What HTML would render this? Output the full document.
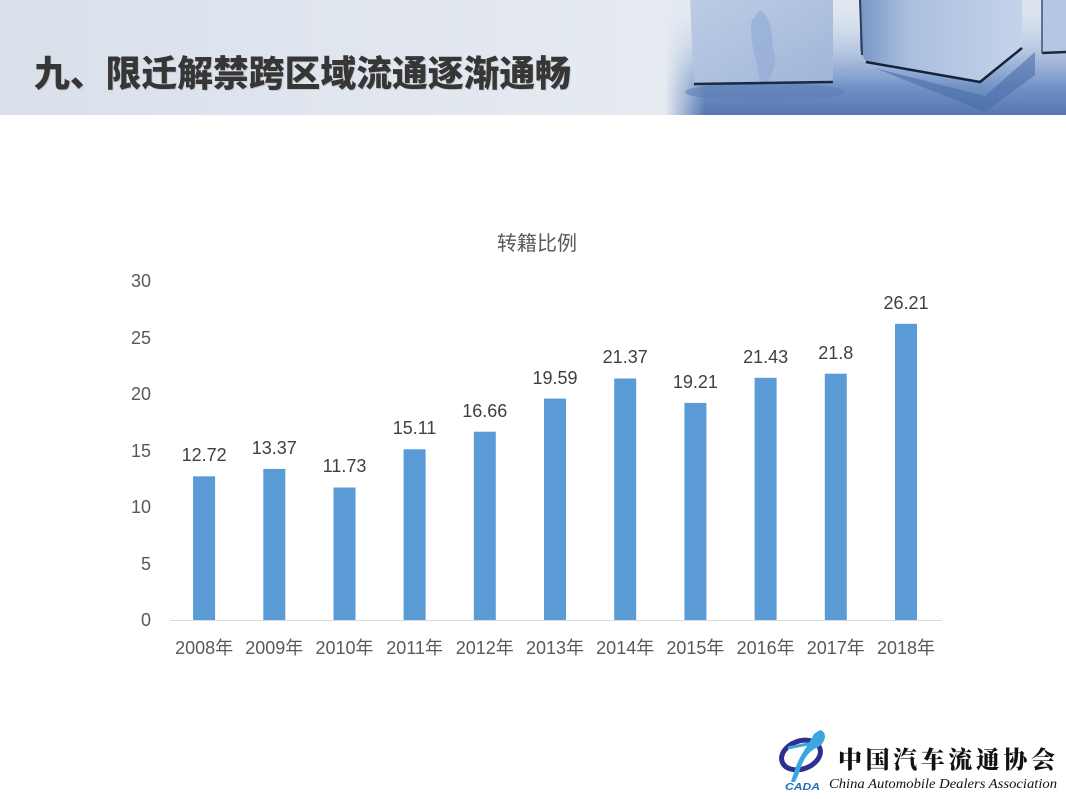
<!DOCTYPE html>
<html>
<head>
<meta charset="utf-8">
<style>
html,body{margin:0;padding:0;background:#fff;}
svg{display:block;}
</style>
</head>
<body>
<svg width="1066" height="799" viewBox="0 0 1066 799" xmlns="http://www.w3.org/2000/svg">
<defs>
<linearGradient id="hdr" x1="0" y1="0" x2="1" y2="0">
<stop offset="0" stop-color="#d9e0ea"/>
<stop offset="0.45" stop-color="#e3e8f0"/>
<stop offset="0.62" stop-color="#e6ebf2"/>
<stop offset="1" stop-color="#dce4ee"/>
</linearGradient>
<linearGradient id="floor" x1="0" y1="0" x2="0" y2="1">
<stop offset="0" stop-color="#dbe3ee" stop-opacity="0"/>
<stop offset="0.45" stop-color="#a9bddc" stop-opacity="0.8"/>
<stop offset="0.75" stop-color="#7393c6"/>
<stop offset="1" stop-color="#5677b1"/>
</linearGradient>
<linearGradient id="fade" x1="0" y1="0" x2="1" y2="0">
<stop offset="0" stop-color="#fff" stop-opacity="0"/>
<stop offset="0.1" stop-color="#fff" stop-opacity="1"/>
<stop offset="1" stop-color="#fff" stop-opacity="1"/>
</linearGradient>
<mask id="fm"><rect x="665" y="0" width="401" height="115" fill="url(#fade)"/></mask>
<linearGradient id="c1" x1="0" y1="0" x2="1" y2="1">
<stop offset="0" stop-color="#bccce4"/>
<stop offset="1" stop-color="#9fb6d9"/>
</linearGradient>
<linearGradient id="c2" x1="0" y1="0" x2="1" y2="0">
<stop offset="0" stop-color="#7895c4"/>
<stop offset="0.3" stop-color="#aabfdf"/>
<stop offset="1" stop-color="#c4d3e9"/>
</linearGradient>
</defs>

<!-- header band -->
<rect x="0" y="0" width="1066" height="115" fill="url(#hdr)"/>
<g mask="url(#fm)">
<rect x="665" y="0" width="401" height="115" fill="url(#floor)"/>
</g>
<!-- cube 1 -->
<ellipse cx="765" cy="92" rx="80" ry="9" fill="#5d7fb7" opacity="0.6"/>
<polygon points="690,0 833,0 833,82 694,84" fill="url(#c1)"/>
<path d="M760 10 C775 20 770 40 775 55 C778 70 765 80 770 84 L760 84 C758 60 748 40 752 20 Z" fill="#93acd4" opacity="0.7"/>
<line x1="694" y1="84" x2="833" y2="82" stroke="#1b2940" stroke-width="2.5"/>
<!-- cube 2 -->
<polygon points="875,68 985,96 1035,52 1035,75 985,112" fill="#4a6ea9" opacity="0.6"/>
<polygon points="860,0 1022,0 1022,48 980,82 866,62 860,50" fill="url(#c2)"/>
<path d="M866 62 L980 82 L1022 48" fill="none" stroke="#14223a" stroke-width="2.5"/>
<line x1="860" y1="0" x2="862" y2="55" stroke="#2a3d60" stroke-width="2"/>
<!-- cube 3 -->
<polygon points="1042,0 1066,0 1066,52 1042,53" fill="#b3c6e2"/>
<line x1="1042" y1="53" x2="1066" y2="52" stroke="#1b2940" stroke-width="2.5"/>
<line x1="1042" y1="0" x2="1042" y2="53" stroke="#3a5078" stroke-width="1.5"/>

<!-- title -->
<text x="34" y="86" font-family="'Noto Sans CJK SC','WenQuanYi Zen Hei',sans-serif" font-weight="900" font-size="36" fill="#888" opacity="0.25" transform="translate(1,1)" textLength="537" lengthAdjust="spacingAndGlyphs">九、限迁解禁跨区域流通逐渐通畅</text>
<text x="34" y="86" font-family="'Noto Sans CJK SC','WenQuanYi Zen Hei',sans-serif" font-weight="900" font-size="36" fill="#363636" textLength="537" lengthAdjust="spacingAndGlyphs">九、限迁解禁跨区域流通逐渐通畅</text>

<!-- chart title -->
<text x="537" y="250" text-anchor="middle" font-family="'Liberation Sans','Noto Sans CJK SC',sans-serif" font-size="20" fill="#595959">转籍比例</text>

<!-- y axis labels -->
<g font-family="'Liberation Sans',sans-serif" font-size="18" fill="#595959" text-anchor="end">
<text x="151" y="287">30</text>
<text x="151" y="344">25</text>
<text x="151" y="400">20</text>
<text x="151" y="457">15</text>
<text x="151" y="513">10</text>
<text x="151" y="570">5</text>
<text x="151" y="626">0</text>
</g>

<!-- axis line -->
<line x1="170" y1="620.5" x2="942" y2="620.5" stroke="#d9d9d9" stroke-width="1"/>

<!-- bars -->
<g fill="#5b9bd5">
<rect x="193.1" y="476.3" width="22" height="143.7"/>
<rect x="263.3" y="468.9" width="22" height="151.1"/>
<rect x="333.5" y="487.5" width="22" height="132.5"/>
<rect x="403.6" y="449.3" width="22" height="170.7"/>
<rect x="473.8" y="431.7" width="22" height="188.3"/>
<rect x="544.0" y="398.6" width="22" height="221.4"/>
<rect x="614.2" y="378.5" width="22" height="241.5"/>
<rect x="684.4" y="402.9" width="22" height="217.1"/>
<rect x="754.6" y="377.8" width="22" height="242.2"/>
<rect x="824.8" y="373.7" width="22" height="246.3"/>
<rect x="895.0" y="323.8" width="22" height="296.2"/>
</g>

<!-- data labels -->
<g font-family="'Liberation Sans',sans-serif" font-size="18" fill="#404040" text-anchor="middle">
<text x="204.1" y="461">12.72</text>
<text x="274.3" y="454">13.37</text>
<text x="344.5" y="472">11.73</text>
<text x="414.6" y="434">15.11</text>
<text x="484.8" y="417">16.66</text>
<text x="555.0" y="384">19.59</text>
<text x="625.2" y="363">21.37</text>
<text x="695.4" y="388">19.21</text>
<text x="765.6" y="363">21.43</text>
<text x="835.8" y="359">21.8</text>
<text x="906.0" y="309">26.21</text>
</g>

<!-- x labels -->
<g font-family="'Liberation Sans','Noto Sans CJK SC',sans-serif" font-size="18" fill="#595959" text-anchor="middle">
<text x="204.1" y="654">2008年</text>
<text x="274.3" y="654">2009年</text>
<text x="344.5" y="654">2010年</text>
<text x="414.6" y="654">2011年</text>
<text x="484.8" y="654">2012年</text>
<text x="555.0" y="654">2013年</text>
<text x="625.2" y="654">2014年</text>
<text x="695.4" y="654">2015年</text>
<text x="765.6" y="654">2016年</text>
<text x="835.8" y="654">2017年</text>
<text x="906.0" y="654">2018年</text>
</g>

<!-- logo -->
<ellipse cx="801" cy="755" rx="20" ry="14" fill="none" stroke="#2e2f8f" stroke-width="5" transform="rotate(-20 801 755)"/>
<path d="M820 730 C828 732 826 744 816 748 C808 752 803 760 800 770 C798 776 796 780 795 782 L791 782 C794 772 797 762 802 754 C807 746 812 738 814 734 Z" fill="#3aa7dd"/>
<path d="M788 748 C796 746 812 744 822 740" fill="none" stroke="#3aa7dd" stroke-width="3"/>
<text x="785" y="790" font-family="'Liberation Sans',sans-serif" font-style="italic" font-weight="bold" font-size="10" fill="#1f6fb7" textLength="35" lengthAdjust="spacingAndGlyphs">CADA</text>
<text x="838" y="768" font-family="'Noto Serif CJK SC','Noto Sans CJK SC',serif" font-weight="900" font-size="24" fill="#111" textLength="217" lengthAdjust="spacing">中国汽车流通协会</text>
<text x="829" y="788" font-family="'Liberation Serif',serif" font-style="italic" font-size="14" fill="#111" textLength="228" lengthAdjust="spacingAndGlyphs">China Automobile Dealers Association</text>
</svg>
</body>
</html>
